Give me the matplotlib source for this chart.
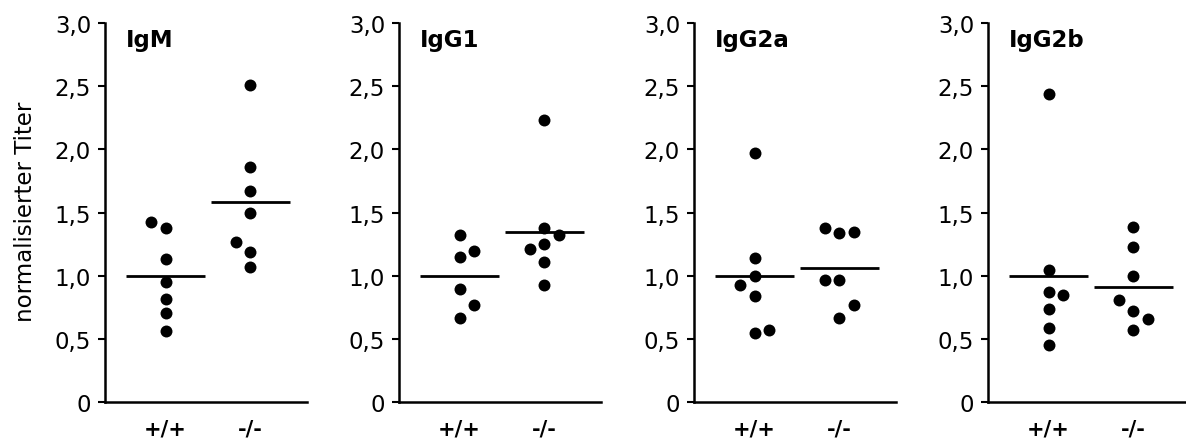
import numpy as np
import matplotlib
matplotlib.use("Agg")
import matplotlib.pyplot as plt

plt.rcParams['font.family'] = ['DejaVu Sans']

# ---- data ----
panels = ["IgM", "IgG1", "IgG2a", "IgG2b"]
genotypes = ["+/+", "-/-"]

igm_wt = [1.43, 1.38, 1.13, 0.95, 0.82, 0.71, 0.56]
igm_ko = [2.51, 1.86, 1.67, 1.50, 1.27, 1.19, 1.07]
igg1_wt = [1.32, 1.20, 1.15, 0.90, 0.77, 0.67]
igg1_ko = [2.23, 1.38, 1.32, 1.25, 1.21, 1.11, 0.93]
igg2a_wt = [1.97, 1.14, 1.00, 0.93, 0.84, 0.57, 0.55]
igg2a_ko = [1.38, 1.35, 1.34, 0.97, 0.97, 0.77, 0.67]
igg2b_wt = [2.44, 1.05, 0.87, 0.85, 0.74, 0.59, 0.45]
igg2b_ko = [1.39, 1.23, 1.00, 0.81, 0.72, 0.66, 0.57]

# jitter side (-1 left, 0 centre, +1 right) to avoid overlapping dots
igm_wt_side = [-1, 0, 0, 0, 0, 0, 0]
igm_ko_side = [0, 0, 0, 0, -1, 0, 0]
igg1_wt_side = [0, 1, 0, 0, 1, 0]
igg1_ko_side = [0, 0, 1, 0, -1, 0, 0]
igg2a_wt_side = [0, 0, 0, -1, 0, 1, 0]
igg2a_ko_side = [-1, 1, 0, -1, 0, 1, 0]
igg2b_wt_side = [0, 0, 0, 1, 0, 0, 0]
igg2b_ko_side = [0, 0, 0, -1, 0, 1, 0]

yticks = [0, 0.5, 1.0, 1.5, 2.0, 2.5, 3.0]
yticklabels = ["0", "0,5", "1,0", "1,5", "2,0", "2,5", "3,0"]
ylabel = "normalisierter Titer"

groups = [
    (igm_wt, igm_ko, igm_wt_side, igm_ko_side),
    (igg1_wt, igg1_ko, igg1_wt_side, igg1_ko_side),
    (igg2a_wt, igg2a_ko, igg2a_wt_side, igg2a_ko_side),
    (igg2b_wt, igg2b_ko, igg2b_wt_side, igg2b_ko_side),
]

# ---- layout ----
W, H = 1186, 439
fig = plt.figure(figsize=(W / 100, H / 100), dpi=100)
lefts_px = [105, 399, 694, 988]
width_px = 202
top_px, bottom_px = 24, 403.3

jit = 0.165
half = 0.46

for i, (name, (wt, ko, swt, sko)) in enumerate(zip(panels, groups)):
    ax = fig.add_axes([lefts_px[i] / W, 1 - bottom_px / H,
                       width_px / W, (bottom_px - top_px) / H])
    for pos, vals, sides in ((1, wt, swt), (2, ko, sko)):
        xs = pos + jit * np.asarray(sides, dtype=float)
        ax.plot(xs, vals, 'o', color='black', markersize=8.6,
                markeredgewidth=0, clip_on=False, zorder=3)
        m = np.mean(vals)
        ax.plot([pos - half, pos + half], [m, m], color='black', lw=2.0,
                solid_capstyle='butt', zorder=2)
    ax.set_xlim(0.288, 2.665)
    ax.set_ylim(0, 3.0)
    ax.set_yticks(yticks)
    ax.set_yticklabels(yticklabels, fontsize=16.5)
    ax.set_xticks([1, 2])
    ax.set_xticklabels(genotypes, fontsize=15, fontweight='bold')
    ax.tick_params(axis='x', length=0, pad=12)
    ax.tick_params(axis='y', length=5, width=1.5, pad=5, direction='out')
    for s in ('top', 'right'):
        ax.spines[s].set_visible(False)
    for s in ('left', 'bottom'):
        ax.spines[s].set_linewidth(1.8)
    ax.text(0.105, 0.939, name, transform=ax.transAxes, fontsize=16.5,
            fontweight='bold', ha='left', va='baseline')

fig.text(26 / W, 1 - 211.5 / H, ylabel, rotation=90, ha='center',
         va='center', fontsize=16.5)

fig.savefig("out.png", dpi=100)
